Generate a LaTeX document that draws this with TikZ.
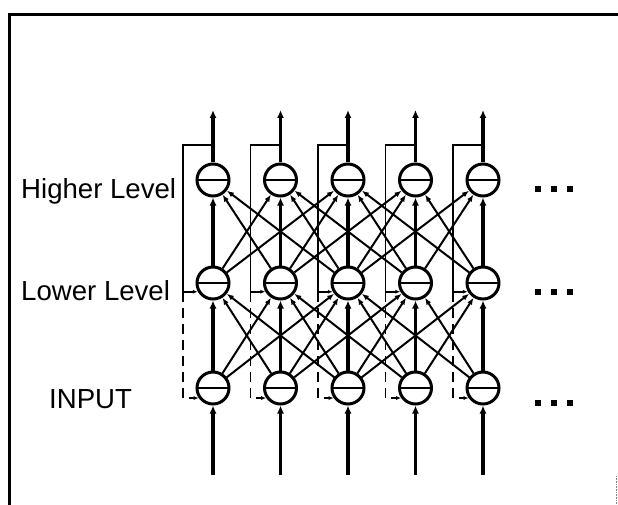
\documentclass[tikz,border=0pt]{standalone}
\usepackage{fontspec}
\setmainfont{Liberation Sans}
\usetikzlibrary{arrows.meta}
\begin{document}
\begin{tikzpicture}[x=1pt,y=-1pt,
  unit/.style={circle,draw,line width=3pt,minimum size=32pt,inner sep=0pt,
    path picture={\draw[line width=2.4pt] (path picture bounding box.west) -- (path picture bounding box.east);}},
  conn/.style={line width=2pt,-{Latex[length=7pt,width=5.5pt]}},
  thick arrow/.style={line width=3.8pt,-{Latex[length=8pt,width=7pt]}},
  fbline/.style={line width=1.5pt,-{Latex[length=5pt,width=4pt]}},
  fbdash/.style={line width=1.5pt,dash pattern=on 10pt off 6pt,-{Latex[length=5pt,width=4pt]}},
  lbl/.style={font=\fontsize{27.6}{30}\selectfont,inner sep=0pt,anchor=base west},
  dot/.style={rectangle,fill=black,minimum size=6.5pt,inner sep=0pt}
]
\useasboundingbox (0,0) rectangle (618,505);
% frame
\draw[line width=3pt] (9,505) -- (9,15) -- (619,15);
\draw[line width=0.6pt,densely dotted,gray] (616,476) -- (616,505);
% labels
\node[lbl] (txh) at (21,198) {Higher Level};
\node[lbl] (txl) at (21,300) {Lower Level};
\node[lbl] (txi) at (49,408) {INPUT};
% units
\foreach \i in {1,...,5}{
  \pgfmathsetmacro\x{213+67.5*(\i-1)}
  \node[unit] (h\i) at (\x,180) {};
  \node[unit] (l\i) at (\x,283) {};
  \node[unit] (p\i) at (\x,388) {};
  \coordinate (a\i) at (\x,110);
  \coordinate (t\i) at (\x,145);
  \coordinate (f\i) at (\x-30,145);
  \coordinate (b\i) at (\x,475);
}
% vertical arrows
\foreach \i in {1,...,5}{
  \draw[thick arrow] (h\i) -- (a\i);
  \draw[thick arrow] (l\i) -- (h\i);
  \draw[thick arrow] (p\i) -- (l\i);
  \draw[thick arrow] (b\i) -- (p\i);
}
% cross connections
\foreach \i in {1,...,5}{
  \foreach \d in {-2,-1,1,2}{
    \pgfmathtruncatemacro\j{\i+\d}
    \ifnum\j>0 \ifnum\j<6
      \draw[conn] (l\i) -- (h\j);
      \draw[conn] (p\i) -- (l\j);
    \fi\fi
  }
}
% feedback lines
\foreach \i in {1,...,5}{
  \draw[fbline] (t\i) -- (f\i) -- (f\i |- l\i.210) -- (l\i.210);
  \draw[fbdash] (f\i |- l\i.210) -- (f\i |- p\i.215) -- (p\i.215);
}
% ellipses
\foreach \y/\n in {189/a,292/b,403/c}{
  \node[dot] (d\n1) at (538,\y) {};
  \node[dot] (d\n2) at (554,\y) {};
  \node[dot] (d\n3) at (570,\y) {};
}
\end{tikzpicture}
\end{document}
